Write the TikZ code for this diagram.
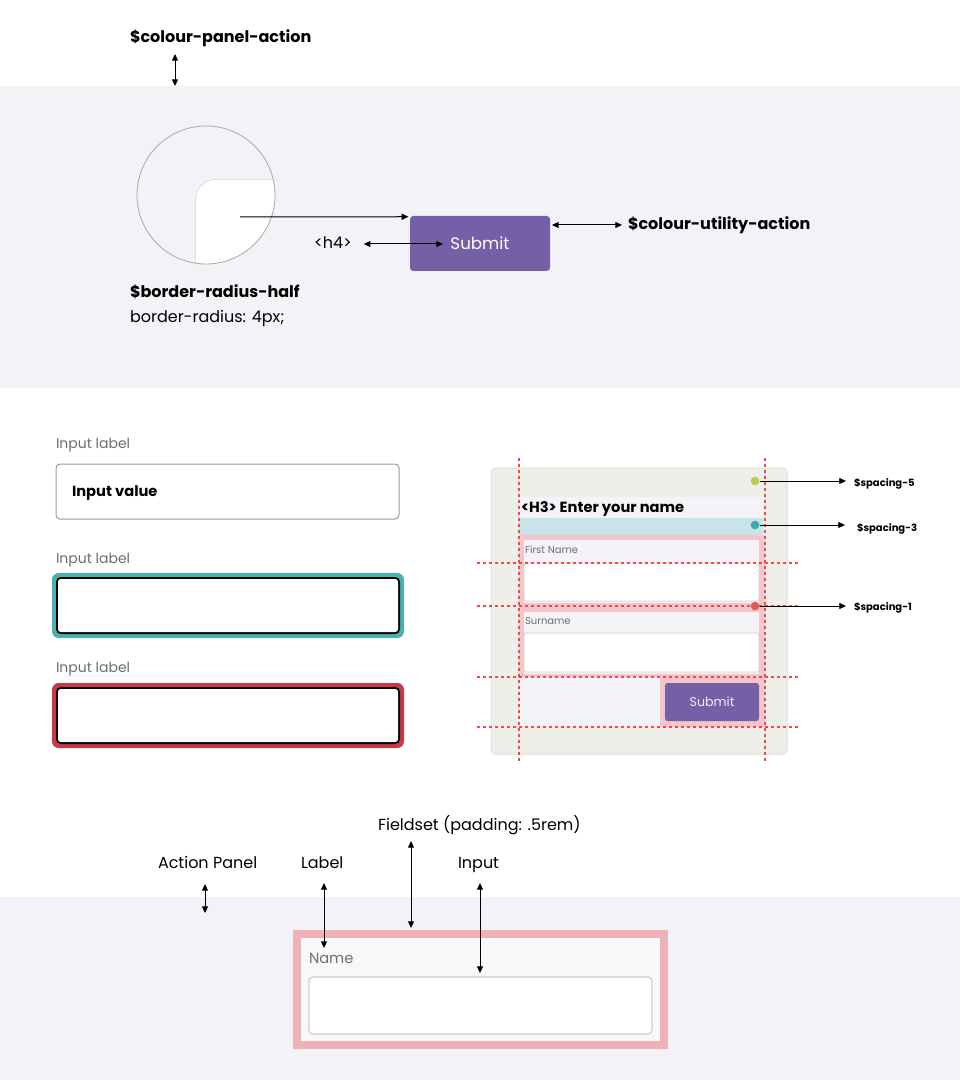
\documentclass[tikz,border=0pt]{standalone}
\usepackage{fontspec}
\setmainfont{Poppins}
\usetikzlibrary{arrows.meta}
\definecolor{panelbg}{HTML}{F3F2F7}
\definecolor{btnpurple}{HTML}{7560A8}
\definecolor{circborder}{HTML}{A8A8A8}
\definecolor{labelgray}{HTML}{6E6E6E}
\definecolor{boxgray}{HTML}{9A9A9A}
\definecolor{tealc}{HTML}{4BB0B0}
\definecolor{redc}{HTML}{C8384B}
\definecolor{formbg}{HTML}{EFEFEA}
\definecolor{formborder}{HTML}{E0E0DA}
\definecolor{lightband}{HTML}{F4F3F8}
\definecolor{tealband}{HTML}{C9E4E8}
\definecolor{pinkband}{HTML}{F2C6CA}
\definecolor{guidered}{HTML}{F0484F}
\definecolor{dotgreen}{HTML}{BFCF45}
\definecolor{dotteal}{HTML}{35ADB0}
\definecolor{dotred}{HTML}{E05A5C}
\definecolor{fsborder}{HTML}{EEB1B5}
\definecolor{fsfill}{HTML}{F8F8FA}
\definecolor{inputborder}{HTML}{D0D0D0}
\tikzset{
  arr/.style={-{Triangle[length=5pt,width=4.5pt]}, line width=0.75pt},
  darr/.style={{Triangle[length=5pt,width=4.5pt]}-{Triangle[length=5pt,width=4.5pt]}, line width=0.75pt},
  txt/.style={inner sep=0pt, outer sep=0pt, anchor=west, text height=0.7em, text depth=0pt},
  big/.style={txt, font=\fontsize{12}{14}\selectfont},
  bigb/.style={txt, font=\fontsize{12}{14}\selectfont\bfseries},
  mid/.style={txt, font=\fontsize{10.5}{12}\selectfont, text=labelgray},
  tiny/.style={txt, font=\fontsize{7.5}{9}\selectfont\bfseries},
  guideline/.style={draw=guidered, dash pattern=on 2.5pt off 2pt, line width=1pt},
  dot/.style={circle, inner sep=0pt, minimum size=6.5pt},
}
\begin{document}
\begin{tikzpicture}[x=0.75pt, y=-0.75pt]
\useasboundingbox (0,0) rectangle (960,1080);
\fill[white] (0,0) rectangle (960,1080);
% ---------- top panel ----------
\fill[panelbg] (0,86) rectangle (960,388);
\node[bigb] (cpa) at (130,38) {\$colour-panel-action};
\coordinate (cpaT) at (175,54);
\coordinate (cpaB) at (175,86);
\draw[darr] (cpaT) -- (cpaB);
% circle magnifier
\coordinate (cc) at (206,195);
\begin{scope}
  \clip (cc) circle[radius=69];
  \draw[white!88!black, line width=1.5pt, rounded corners=15pt] (196,180) rectangle (330,330);
  \fill[white, rounded corners=15pt] (196,180) rectangle (330,330);
\end{scope}
\draw[circborder, line width=0.6pt] (cc) circle[radius=69];
% submit button
\node[fill=btnpurple, rounded corners=2.5pt, minimum width=105pt, minimum height=41.25pt,
      inner sep=0pt, text=white, font=\fontsize{12.5}{14}\selectfont] (submit) at (480,243.5) {Submit};
\coordinate (rstart) at (240,217);
\draw[arr] (rstart) -- ([xshift=-1pt,yshift=-0.75pt]submit.north west);
\node[big] (h4) at (314,244) {<h4>};
\coordinate (h4r) at (443,244);
\draw[darr] ([xshift=9pt]h4.east) -- (h4r);
\node[bigb] (cua) at (628,225) {\$colour-utility-action};
\coordinate (utilL) at (552,225);
\draw[darr] (utilL) -- ([xshift=-4.5pt]cua.west);
\node[bigb] (brh) at (130,293) {\$border-radius-half};
\node[big] (brv) at (130,318) {border-radius: 4px;};
% ---------- input states ----------
\node[mid] (il1) at (56,444) {Input label};
\draw[boxgray, fill=white, line width=0.75pt, rounded corners=3pt] (56,464) rectangle (399,519);
\node[txt, font=\fontsize{11}{13}\selectfont\bfseries] (iv) at (72,492) {Input value};
\node[mid] (il2) at (56,559) {Input label};
\fill[tealc, rounded corners=5pt] (52,573) rectangle (404,638);
\fill[black, rounded corners=3.5pt] (56,577) rectangle (400,634);
\fill[white, rounded corners=2pt] (58,579) rectangle (398,632);
\node[mid] (il3) at (56,668) {Input label};
\fill[redc, rounded corners=5pt] (52,683) rectangle (404,748);
\fill[black, rounded corners=3.5pt] (56,687) rectangle (400,744);
\fill[white, rounded corners=2pt] (58,689) rectangle (398,742);
% ---------- form example ----------
\draw[formborder, fill=formbg, line width=0.75pt, rounded corners=3pt] (491,468) rectangle (787,754);
\fill[lightband] (519,497) rectangle (763,518);
\node[txt, font=\fontsize{11}{13}\selectfont\bfseries] (h3) at (521,508) {<H3> Enter your name};
\fill[tealband] (519,518) rectangle (763,535);
\fill[pinkband] (519,535) rectangle (765,677);
\fill[lightband] (524,540) rectangle (759,603);
\draw[inputborder, fill=white, line width=0.5pt, rounded corners=2pt] (524,563) rectangle (759,601);
\node[txt, font=\fontsize{7.5}{9}\selectfont, text=labelgray] (fn) at (525,549) {First Name};
\fill[lightband] (524,612) rectangle (759,674);
\draw[inputborder, fill=white, line width=0.5pt, rounded corners=2pt] (524,633) rectangle (759,672);
\node[txt, font=\fontsize{7.5}{9}\selectfont, text=labelgray] (sn) at (525,620) {Surname};
\fill[lightband] (519,677) rectangle (660,727);
\fill[pinkband] (660,677) rectangle (765,727);
\node[fill=btnpurple, rounded corners=2pt, minimum width=70.5pt, minimum height=28.5pt,
      inner sep=0pt, text=white!90!btnpurple, font=\fontsize{9.5}{11}\selectfont] (fsub) at (712,702) {Submit};
% guides
\draw[guideline] (519,458) -- (519,762);
\draw[guideline] (765,458) -- (765,762);
\draw[guideline] (477,563) -- (798,563);
\draw[guideline] (477,606) -- (798,606);
\draw[guideline] (477,677) -- (798,677);
\draw[guideline] (477,727) -- (798,727);
% dots and spacing labels
\node[dot, fill=dotgreen] (d5) at (755,481) {};
\node[dot, fill=dotteal] (d3) at (755,525) {};
\node[dot, fill=dotred] (d1) at (755,606) {};
\node[tiny] (s5) at (854,482) {\$spacing-5};
\node[tiny] (s3) at (857,527) {\$spacing-3};
\node[tiny] (s1) at (854,606) {\$spacing-1};
\draw[arr, line width=0.6pt] (d5.east) -- ([xshift=-6pt]s5.west |- d5.east);
\draw[arr, line width=0.6pt] (d3.east) -- ([xshift=-9pt]s3.west |- d3.east);
\draw[arr, line width=0.6pt] (d1.east) -- ([xshift=-6pt]s1.west |- d1.east);
% ---------- bottom ----------
\fill[panelbg] (0,897) rectangle (960,1080);
\fill[fsborder] (293,930) rectangle (668,1049);
\fill[fsfill] (301,938) rectangle (660,1041);
\node[txt, font=\fontsize{11}{13}\selectfont, text=labelgray] (nm) at (309,959) {Name};
\draw[inputborder, fill=white, line width=1pt, rounded corners=3pt] (309,977) rectangle (652,1034);
\node[big] (fsl) at (378,826) {Fieldset (padding: .5rem)};
\node[big] (apl) at (158,864) {Action Panel};
\node[big] (lbl) at (301,864) {Label};
\node[big] (inl) at (458,864) {Input};
\coordinate (apT) at (205,884);
\coordinate (apB) at (205,913);
\draw[darr] (apT) -- (apB);
\coordinate (lbT) at (324,883);
\coordinate (lbB) at (324,948);
\draw[darr] (lbT) -- (lbB);
\coordinate (fsT) at (411,841);
\coordinate (fsB) at (411,928);
\draw[darr] (fsT) -- (fsB);
\coordinate (inT) at (480,883);
\coordinate (inB) at (480,973);
\draw[darr] (inT) -- (inB);
\end{tikzpicture}
\end{document}
